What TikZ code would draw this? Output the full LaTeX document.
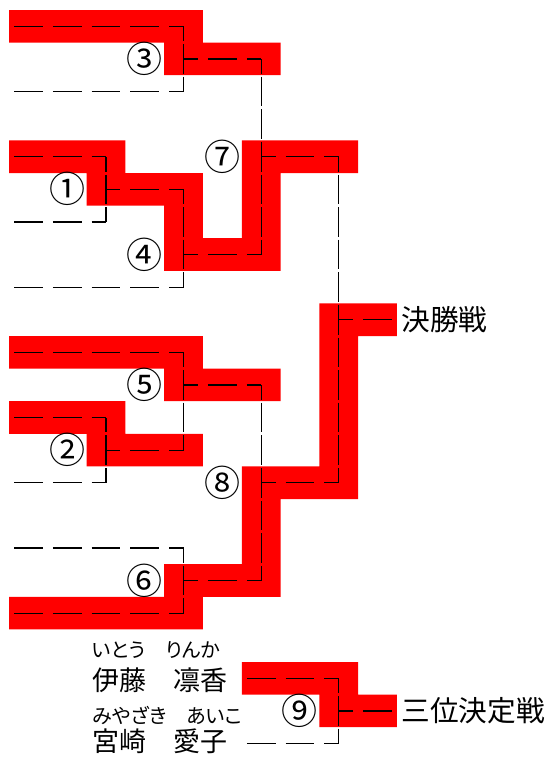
\documentclass[tikz,border=0pt]{standalone}
\usepackage{fontspec}
\setmainfont{Noto Sans CJK JP}
\newfontfamily\kanafont[RawFeature=+palt]{Noto Sans CJK JP}
\usetikzlibrary{positioning}

\definecolor{winred}{RGB}{255,0,0}

\tikzset{
  entryline/.style={line width=.9pt, dash pattern=on 21.6pt off 7.5pt},
  branchline/.style={entryline, dash phase=10.8pt},
  vjoin/.style={line width=.9pt, dash pattern=on 22.2pt off 2.25pt, dash phase=11.1pt},
  num/.style={font=\fontsize{27}{27}\selectfont, inner sep=0pt},
  result/.style={font=\fontsize{21.5}{21.5}\selectfont, inner xsep=7pt, inner ysep=0pt, anchor=west},
  pname/.style={font=\fontsize{20.25}{20.25}\selectfont, inner sep=0pt, anchor=west},
  kana/.style={font=\kanafont\fontsize{15}{15}\selectfont, inner sep=0pt, anchor=west}
}

\begin{document}
\begin{tikzpicture}[x=29.1pt, y=-24.45pt]
  \path[use as bounding box, fill=white] (-0.232,-0.307) rectangle (13.943,22.945);

  % matches: column centre, row centre
  \coordinate (m1) at (2.5,5.5);
  \coordinate (m2) at (2.5,13.5);
  \coordinate (m3) at (4.5,1.5);
  \coordinate (m4) at (4.5,7.5);
  \coordinate (m5) at (4.5,11.5);
  \coordinate (m6) at (4.5,17.5);
  \coordinate (m7) at (6.5,4.5);
  \coordinate (m8) at (6.5,14.5);
  \coordinate (fin) at (8.5,9.5);
  \coordinate (m9) at (8.5,21.5);
  \foreach \r [count=\i] in {0,2,...,18}
    \coordinate (s\i) at (0.129,\r+.5);
  \coordinate (t1) at (6.129,20.5);
  \coordinate (t2) at (6.129,22.5);

  % winners
  \fill[winred] \foreach \a/\b/\r/\q in {0/4/0/0, 4/6/1/1, 0/2/4/4, 2/4/5/5, 4/4/6/6,
      4/6/7/7, 6/6/5/6, 6/8/4/4, 8/9/9/9, 8/8/10/13, 6/8/14/14, 6/6/15/16,
      4/6/17/17, 0/4/18/18, 0/4/10/10, 4/6/11/11, 0/2/12/12, 2/4/13/13,
      6/8/20/20, 8/9/21/21}
    {(\a,\r) rectangle (\b+1,\q+1)};

  \foreach \s/\m in {s1/m3, s2/m3, s3/m1, s4/m1, s5/m4, s6/m5, s7/m2, s8/m2,
      s9/m6, s10/m6, t1/m9, t2/m9}
    \draw[entryline] (\s) -- (\s -| \m);
  \foreach \a/\b in {m1/m4, m2/m5, m3/m7, m4/m7, m5/m8, m6/m8, m7/fin, m8/fin}
    \draw[branchline] (\a) -- (\a -| \b);
  \foreach \a/\b/\m in {s1/s2/m3, s3/s4/m1, m1/s5/m4, s6/m2/m5, s7/s8/m2,
      s9/s10/m6, m3/m4/m7, m5/m6/m8, m7/m8/fin, t1/t2/m9}
    \draw[vjoin] (\a -| \m) -- (\b -| \m);

  \foreach \m/\t in {m1/①, m2/②, m3/③, m4/④, m5/⑤, m6/⑥, m7/⑦, m8/⑧, m9/⑨}
    \node[num] (l\m) at ([shift={(-1,0)}]\m) {\t};

  \node[result] (champ) at (9.87,9.5) {決勝戦};
  \node[result] (third) at (9.87,21.5) {三位決定戦};
  \draw[branchline] (fin) -- (champ.west);
  \draw[branchline] (m9) -- (third.west);

  \node[kana] (itokana) at (2.14,19.63) {いとう　りんか};
  \node[pname] (ito) at (2.14,20.55) {伊藤　凛香};
  \node[kana] (miyakana) at (2.14,21.63) {みやざき　あいこ};
  \node[pname] (miya) at (2.14,22.42) {宮崎　愛子};
\end{tikzpicture}
\end{document}
